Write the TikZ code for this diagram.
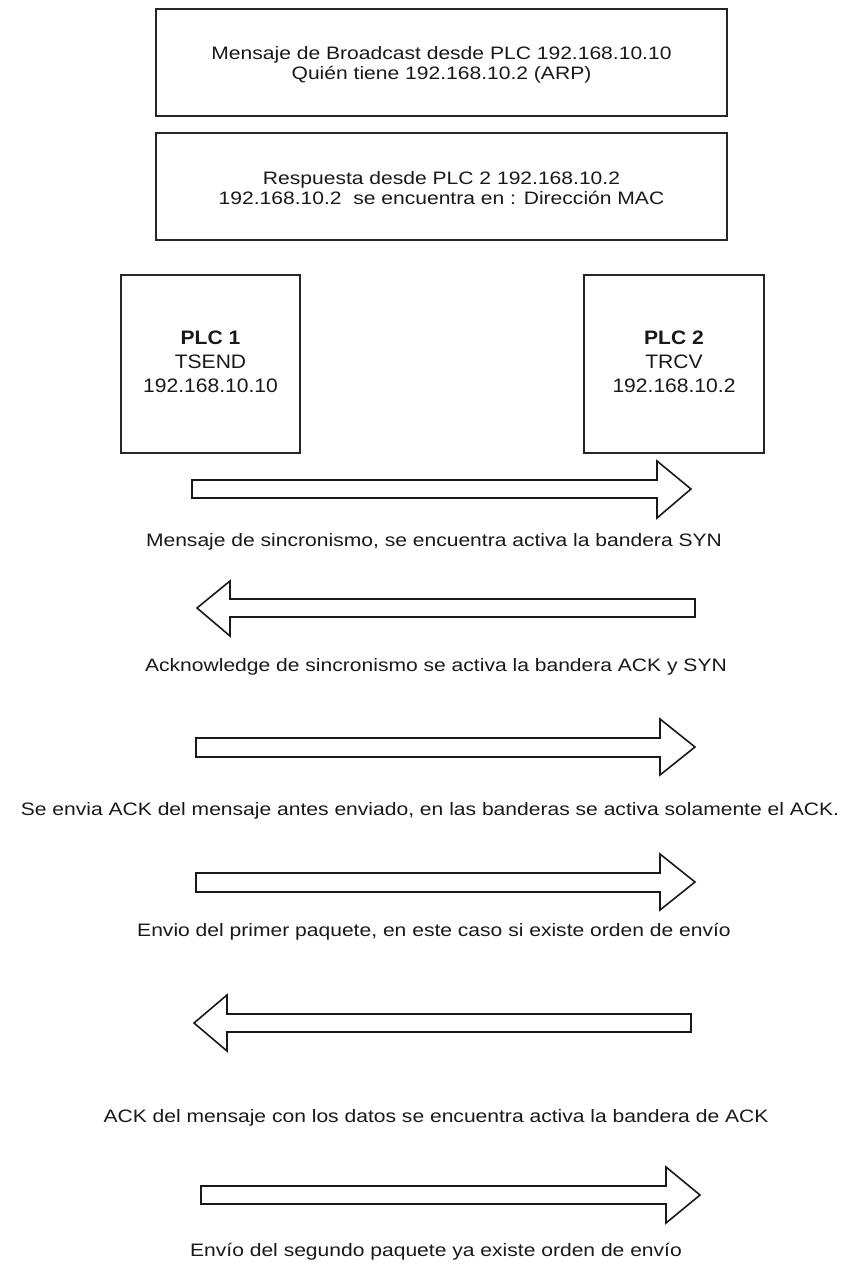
\documentclass[tikz,border=0pt]{standalone}
\usepackage{fontspec}
\setmainfont{Liberation Sans}[FakeStretch=1.17]
\newfontfamily\plcfont{Liberation Sans}[FakeStretch=1.08]
\begin{document}
\begin{tikzpicture}[x=1pt,y=-1pt,
  box/.style={draw=black!85, line width=1.4pt, inner sep=0pt},
  txt/.style={font=\fontsize{18}{20}\selectfont, text=black!90, anchor=base, inner sep=0pt},
  ptxt/.style={txt, font=\plcfont\fontsize{19.5}{22}\selectfont},
  pbtxt/.style={txt, font=\plcfont\fontsize{19.5}{22}\selectfont\bfseries},
  blk/.style={draw=black!90, line width=1.6pt, fill=white, line join=miter}
]
\useasboundingbox (0,0) rectangle (845,1279);
\fill[white] (0,0) rectangle (845,1279);

% top boxes
\node[box, minimum width=571pt, minimum height=107pt] (b1) at (441.5,62.5) {};
\node[txt] (b1a) at (441.5,60) {Mensaje de Broadcast desde PLC 192.168.10.10};
\node[txt] (b1b) at (441.5,80) {Quién tiene 192.168.10.2 (ARP)};

\node[box, minimum width=571pt, minimum height=107pt] (b2) at (441.5,186.5) {};
\node[txt] (b2a) at (441.5,184) {Respuesta desde PLC 2 192.168.10.2};
\node[txt] (b2b) at (441.5,204) {192.168.10.2\ \ se encuentra en : Dirección MAC};

% PLC boxes
\node[box, minimum width=179pt, minimum height=178pt] (p1) at (210.5,364) {};
\node[pbtxt] (p1a) at (210.5,344) {PLC 1};
\node[ptxt] (p1b) at (210.5,368) {TSEND};
\node[ptxt] (p1c) at (210.5,392) {192.168.10.10};

\node[box, minimum width=180pt, minimum height=178pt] (p2) at (674,364) {};
\node[pbtxt] (p2a) at (674,344) {PLC 2};
\node[ptxt] (p2b) at (674,368) {TRCV};
\node[ptxt] (p2c) at (674,392) {192.168.10.2};

% block arrows
% A1 right
\draw[blk] (192,480) -- (657,480) -- (657,461) -- (691,489) -- (657,518) -- (657,498) -- (192,498) -- cycle;
\node[txt] (l1) at (434,546) {Mensaje de sincronismo, se encuentra activa la bandera SYN};
% A2 left
\draw[blk] (695,599) -- (230,599) -- (230,581) -- (197,608) -- (230,636) -- (230,617) -- (695,617) -- cycle;
\node[txt] (l2) at (436,671) {Acknowledge de sincronismo se activa la bandera ACK y SYN};
% A3 right
\draw[blk] (196,738) -- (660,738) -- (660,719) -- (695,747) -- (660,775) -- (660,757) -- (196,757) -- cycle;
\node[txt] (l3) at (430,815) {Se envia ACK del mensaje antes enviado, en las banderas se activa solamente el ACK.};
% A4 right
\draw[blk] (196,873) -- (660,873) -- (660,854) -- (695,882) -- (660,910) -- (660,892) -- (196,892) -- cycle;
\node[txt] (l4) at (434,936) {Envio del primer paquete, en este caso si existe orden de envío};
% A5 left
\draw[blk] (691,1014) -- (227,1014) -- (227,995) -- (194,1023) -- (227,1051) -- (227,1032) -- (691,1032) -- cycle;
\node[txt] (l5) at (436,1122) {ACK del mensaje con los datos se encuentra activa la bandera de ACK};
% A6 right
\draw[blk] (201,1186) -- (666,1186) -- (666,1167) -- (700,1195) -- (666,1223) -- (666,1204) -- (201,1204) -- cycle;
\node[txt] (l6) at (436,1256) {Envío del segundo paquete ya existe orden de envío};
\end{tikzpicture}
\end{document}
